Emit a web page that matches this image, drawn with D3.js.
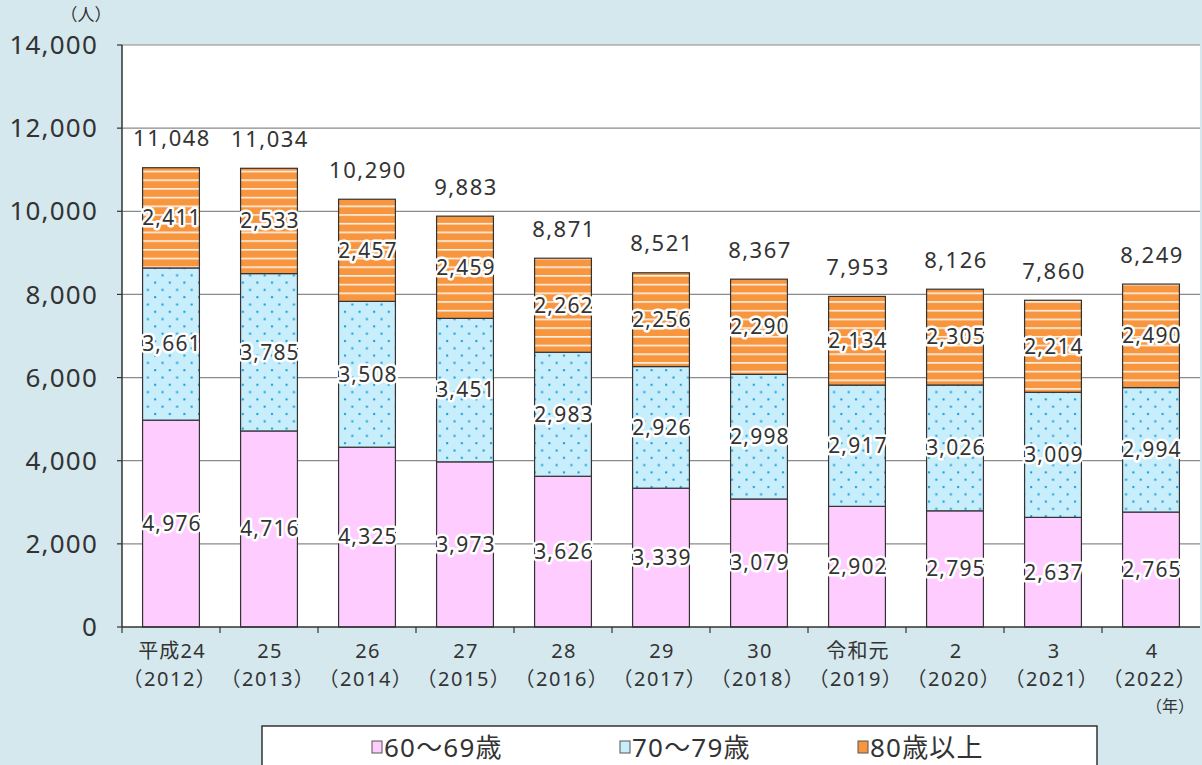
<!DOCTYPE html>
<html>
<head>
<meta charset="utf-8">
<script src="https://cdn.jsdelivr.net/npm/d3@7"></script>
<style>
  html, body { margin: 0; padding: 0; background: #d5e8ee; }
  svg { display: block; }
  text { font-family: "Noto Sans", "Noto Sans CJK JP", sans-serif; fill: #333; }
</style>
</head>
<body>
<div id="chart"></div>
<script>
// data
const yearsJp = ['平成24', '25', '26', '27', '28', '29', '30', '令和元', '2', '3', '4'];
const yearsAd = ['（2012）', '（2013）', '（2014）', '（2015）', '（2016）', '（2017）', '（2018）', '（2019）', '（2020）', '（2021）', '（2022）'];
const age60s = [4976, 4716, 4325, 3973, 3626, 3339, 3079, 2902, 2795, 2637, 2765];
const age70s = [3661, 3785, 3508, 3451, 2983, 2926, 2998, 2917, 3026, 3009, 2994];
const age80plus = [2411, 2533, 2457, 2459, 2262, 2256, 2290, 2134, 2305, 2214, 2490];
const totals = [11048, 11034, 10290, 9883, 8871, 8521, 8367, 7953, 8126, 7860, 8249];
const seriesNames = ['60〜69歳', '70〜79歳', '80歳以上'];
const yTicks = [0, 2000, 4000, 6000, 8000, 10000, 12000, 14000];

const W = 1202, H = 765;
const margin = { top: 45, right: 2, bottom: 138, left: 122 };
const innerW = W - margin.left - margin.right;
const innerH = H - margin.top - margin.bottom;
const fmt = d3.format(',');

const svg = d3.select('#chart').append('svg')
    .attr('width', W).attr('height', H);

// patterns
const defs = svg.append('defs');
const dots = defs.append('pattern')
    .attr('id', 'dots').attr('patternUnits', 'userSpaceOnUse')
    .attr('width', 14.6).attr('height', 14.6);
dots.append('rect').attr('width', 14.6).attr('height', 14.6).attr('fill', '#c8eefc');
dots.append('rect').attr('x', 3).attr('y', 3).attr('width', 2).attr('height', 2).attr('fill', '#0a9be0');
dots.append('rect').attr('x', 10.3).attr('y', 10.3).attr('width', 2).attr('height', 2).attr('fill', '#0a9be0');

const stripes = defs.append('pattern')
    .attr('id', 'stripes').attr('patternUnits', 'userSpaceOnUse')
    .attr('width', 10).attr('height', 8.7);
stripes.append('rect').attr('width', 10).attr('height', 8.7).attr('fill', '#f7963f');
stripes.append('rect').attr('y', 4).attr('width', 10).attr('height', 1.4).attr('fill', '#ffffff');

const fills = ['#ffccff', 'url(#dots)', 'url(#stripes)'];
const legendFills = ['#ffccff', '#c8eefc', '#f7963f'];

const g = svg.append('g').attr('transform', `translate(${margin.left},${margin.top})`);

g.append('rect').attr('width', innerW).attr('height', innerH).attr('fill', '#fff');

const x = d3.scaleBand().domain(d3.range(yearsJp.length)).range([0, innerW]).paddingInner(0.42).paddingOuter(0.21);
const y = d3.scaleLinear().domain([0, 14000]).range([innerH, 0]);

// gridlines
g.selectAll('.grid').data(yTicks.filter(d => d > 0)).enter().append('line')
    .attr('x1', 0).attr('x2', innerW)
    .attr('y1', d => y(d)).attr('y2', d => y(d))
    .attr('stroke', '#8a8a8a').attr('stroke-width', 1.2);

// stacked bars
const rows = yearsJp.map((_, i) => ({ i, a: age60s[i], b: age70s[i], c: age80plus[i] }));
const stack = d3.stack().keys(['a', 'b', 'c'])(rows);

stack.forEach((layer, k) => {
    g.append('g').selectAll('rect').data(layer).enter().append('rect')
        .attr('x', d => x(d.data.i))
        .attr('y', d => y(d[1]))
        .attr('width', x.bandwidth())
        .attr('height', d => y(d[0]) - y(d[1]))
        .attr('fill', fills[k])
        .attr('stroke', '#333').attr('stroke-width', 1.2);
});

// segment labels
stack.forEach(layer => {
    g.append('g').selectAll('text').data(layer).enter().append('text')
        .attr('x', d => x(d.data.i) + x.bandwidth() / 2 + 1)
        .attr('y', d => y((d[0] + d[1]) / 2))
        .attr('dy', '0.35em')
        .attr('text-anchor', 'middle')
        .attr('font-size', 21)
        .attr('letter-spacing', 1.2)
        .attr('stroke', '#fff').attr('stroke-width', 5).attr('stroke-linejoin', 'round')
        .attr('paint-order', 'stroke')
        .text(d => fmt(d[1] - d[0]));
});

// totals
g.append('g').selectAll('text').data(totals).enter().append('text')
    .attr('x', (d, i) => x(i) + x.bandwidth() / 2 + 1)
    .attr('y', d => y(d) - 29)
    .attr('dy', '0.35em')
    .attr('text-anchor', 'middle')
    .attr('font-size', 22)
    .attr('letter-spacing', 1.5)
    .text(d => fmt(d));

// axes
g.append('line').attr('x1', 0).attr('x2', 0).attr('y1', 0).attr('y2', innerH)
    .attr('stroke', '#333').attr('stroke-width', 1.5);
g.append('line').attr('x1', 0).attr('x2', innerW).attr('y1', innerH).attr('y2', innerH)
    .attr('stroke', '#333').attr('stroke-width', 1.5);

g.selectAll('.ytick').data(yTicks).enter().append('line')
    .attr('x1', -5).attr('x2', 0).attr('y1', d => y(d)).attr('y2', d => y(d))
    .attr('stroke', '#333').attr('stroke-width', 1.2);
g.selectAll('.ylab').data(yTicks).enter().append('text')
    .attr('x', -24).attr('y', d => y(d)).attr('dy', '0.35em')
    .attr('text-anchor', 'end').attr('font-size', 26)
    .attr('letter-spacing', 1.2)
    .text(d => fmt(d));

const step = x.step();
g.selectAll('.xtick').data(d3.range(yearsJp.length)).enter().append('line')
    .attr('x1', i => i * step).attr('x2', i => i * step)
    .attr('y1', innerH).attr('y2', innerH + 6)
    .attr('stroke', '#333').attr('stroke-width', 1.2);

// two-line category labels
g.selectAll('.xlab1').data(yearsJp).enter().append('text')
    .attr('x', (d, i) => x(i) + x.bandwidth() / 2 + 1).attr('y', innerH + 24)
    .attr('dy', '0.35em').attr('text-anchor', 'middle').attr('font-size', 20)
    .attr('letter-spacing', 1.2)
    .text(d => d);
g.selectAll('.xlab2').data(yearsAd).enter().append('text')
    .attr('x', (d, i) => x(i) + x.bandwidth() / 2 - 1).attr('y', innerH + 52)
    .attr('dy', '0.35em').attr('text-anchor', 'middle').attr('font-size', 20)
    .attr('letter-spacing', 1.5)
    .text(d => d);

svg.append('text').attr('x', 1170).attr('y', 706).attr('dy', '0.35em')
    .attr('text-anchor', 'middle').attr('font-size', 16).text('（年）');
svg.append('text').attr('x', 86).attr('y', 15).attr('dy', '0.35em')
    .attr('text-anchor', 'middle').attr('font-size', 17).text('（人）');

// legend
const legend = svg.append('g');
legend.append('rect').attr('x', 262).attr('y', 726).attr('width', 835).attr('height', 50)
    .attr('fill', '#fff').attr('stroke', '#333').attr('stroke-width', 1.5);
const legendX = [372, 620, 858];
seriesNames.forEach((name, k) => {
    legend.append('rect').attr('x', legendX[k]).attr('y', 741).attr('width', 10).attr('height', 12)
        .attr('fill', legendFills[k]).attr('stroke', '#555').attr('stroke-width', 1);
    legend.append('text').attr('x', legendX[k] + 12).attr('y', 748).attr('dy', '0.35em')
        .attr('font-size', 26).attr('letter-spacing', 1.2).text(name);
});
</script>
</body>
</html>
